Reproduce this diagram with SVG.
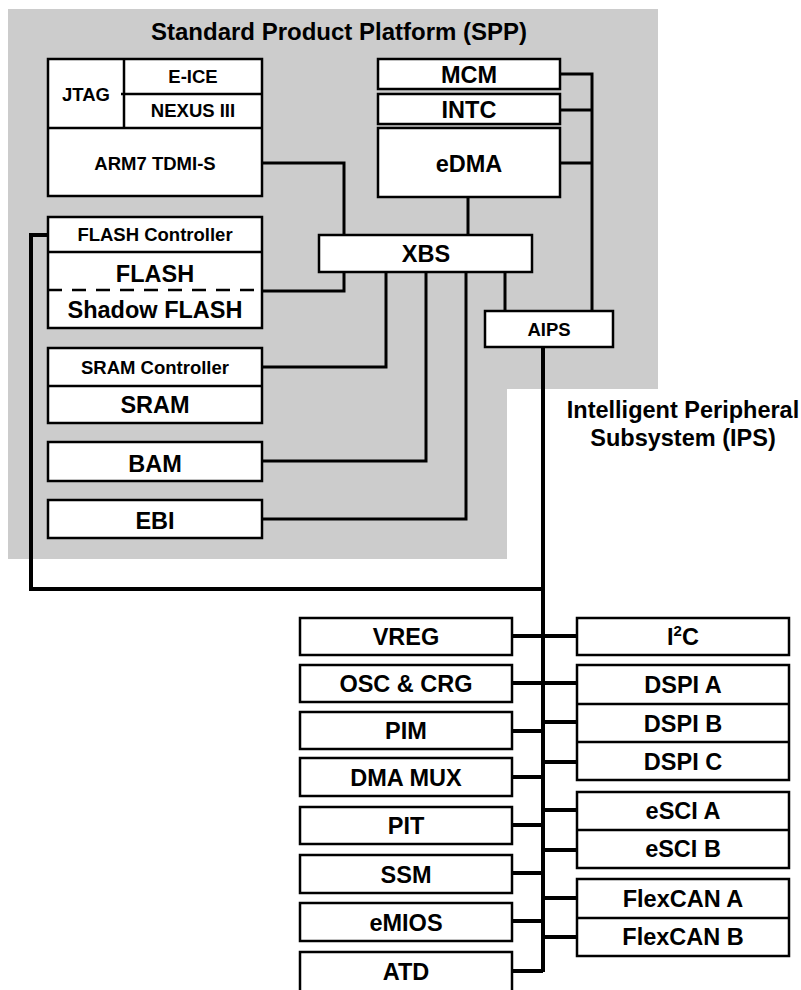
<svg xmlns="http://www.w3.org/2000/svg" width="801" height="990" viewBox="0 0 801 990">
<style>
.bx{fill:#fff;stroke:#000;stroke-width:2.5}
.dv{fill:none;stroke:#000;stroke-width:2.5}
.dash{fill:none;stroke:#000;stroke-width:2.5;stroke-dasharray:14 10}
.c{fill:none;stroke:#000;stroke-width:3}
.bus{fill:none;stroke:#000;stroke-width:4}
text{font-family:"Liberation Sans",Arial,Helvetica,sans-serif;font-weight:bold;fill:#000;text-anchor:middle}
.L{font-size:23.5px}
.S{font-size:18.5px}
.T{font-size:24px}
</style>
<path id="spp-bg" d="M8 9H658V389H507V559H8Z" fill="#ccc"/>
<text class="T" x="339" y="40">Standard Product Platform (SPP)</text>
<g id="connectors">
<path class="c" d="M262 163H344V235"/>
<path class="c" d="M344 272V291H262"/>
<path class="c" d="M386 272V367H262"/>
<path class="c" d="M426 272V461H262"/>
<path class="c" d="M466 272V519H262"/>
<path class="c" d="M505 272V311"/>
<path class="c" d="M468 197V235"/>
<path class="c" d="M560 74H592V311M560 110H592M560 163H592"/>
<path class="bus" d="M543 347V972"/>
<path class="bus" d="M48 235H31V589H543"/>
<path class="bus" d="M512 636H543M512 683H543M512 731H543M512 777H543M512 825H543M512 873H543M512 921H543M512 971H543"/>
<path class="bus" d="M543 636H577M543 683H577M543 722H577M543 762H577M543 810H577M543 850H577M543 898H577M543 937H577"/>
</g>
<g id="jtag-arm7">
<rect class="bx" x="48" y="59" width="214" height="137"/>
<path class="dv" d="M124 59V128M124 94H262M48 128H262M121 94H124"/>
<text class="S" x="86" y="101">JTAG</text>
<text class="S" x="193" y="83">E-ICE</text>
<text class="S" x="193" y="117">NEXUS III</text>
<text class="S" x="155" y="170">ARM7 TDMI-S</text>
</g>
<g id="mcm"><rect class="bx" x="378" y="59" width="182" height="30"/><text class="L" x="469" y="83">MCM</text></g>
<g id="intc"><rect class="bx" x="378" y="94" width="182" height="30"/><text class="L" x="469" y="118">INTC</text></g>
<g id="edma"><rect class="bx" x="378" y="128" width="182" height="69"/><text class="L" x="469" y="172">eDMA</text></g>
<g id="xbs"><rect class="bx" x="319" y="235" width="213" height="37"/><text class="L" x="426" y="262">XBS</text></g>
<g id="aips"><rect class="bx" x="485" y="311" width="128" height="36"/><text class="S" x="549" y="336">AIPS</text></g>
<g id="flash">
<rect class="bx" x="48" y="217" width="214" height="111"/>
<path class="dv" d="M48 252H262"/>
<path class="dash" d="M48 290H262"/>
<text class="S" x="155" y="241">FLASH Controller</text>
<text class="L" x="155" y="282">FLASH</text>
<text class="L" x="155" y="318">Shadow FLASH</text>
</g>
<g id="sram">
<rect class="bx" x="48" y="348" width="214" height="75"/>
<path class="dv" d="M48 386H262"/>
<text class="S" x="155" y="374">SRAM Controller</text>
<text class="L" x="155" y="413">SRAM</text>
</g>
<g id="bam"><rect class="bx" x="48" y="442" width="214" height="39"/><text class="L" x="155" y="472">BAM</text></g>
<g id="ebi"><rect class="bx" x="48" y="500" width="214" height="38"/><text class="L" x="155" y="529">EBI</text></g>
<text class="L" x="683" y="418">Intelligent Peripheral</text>
<text class="L" x="683" y="446">Subsystem (IPS)</text>
<g id="vreg"><rect class="bx" x="300" y="618" width="212" height="37"/><text class="L" x="406" y="645">VREG</text></g>
<g id="osc"><rect class="bx" x="300" y="665" width="212" height="37"/><text class="L" x="406" y="692">OSC &amp; CRG</text></g>
<g id="pim"><rect class="bx" x="300" y="712" width="212" height="37"/><text class="L" x="406" y="739">PIM</text></g>
<g id="dmamux"><rect class="bx" x="300" y="758" width="212" height="38"/><text class="L" x="406" y="786">DMA MUX</text></g>
<g id="pit"><rect class="bx" x="300" y="807" width="212" height="37"/><text class="L" x="406" y="834">PIT</text></g>
<g id="ssm"><rect class="bx" x="300" y="855" width="212" height="38"/><text class="L" x="406" y="883">SSM</text></g>
<g id="emios"><rect class="bx" x="300" y="903" width="212" height="38"/><text class="L" x="406" y="931">eMIOS</text></g>
<g id="atd"><rect class="bx" x="300" y="952" width="212" height="60"/><text class="L" x="406" y="980">ATD</text></g>
<g id="i2c"><rect class="bx" x="577" y="618" width="212" height="37"/><text class="L" x="683" y="645">I<tspan font-size="15" dy="-9">2</tspan><tspan dy="9">C</tspan></text></g>
<g id="dspi">
<rect class="bx" x="577" y="665" width="212" height="115"/>
<path class="dv" d="M577 704H789M577 742H789"/>
<text class="L" x="683" y="693">DSPI A</text>
<text class="L" x="683" y="732">DSPI B</text>
<text class="L" x="683" y="770">DSPI C</text>
</g>
<g id="esci">
<rect class="bx" x="577" y="792" width="212" height="76"/>
<path class="dv" d="M577 830H789"/>
<text class="L" x="683" y="819">eSCI A</text>
<text class="L" x="683" y="857">eSCI B</text>
</g>
<g id="flexcan">
<rect class="bx" x="577" y="879" width="212" height="77"/>
<path class="dv" d="M577 918H789"/>
<text class="L" x="683" y="907">FlexCAN A</text>
<text class="L" x="683" y="945">FlexCAN B</text>
</g>
</svg>
